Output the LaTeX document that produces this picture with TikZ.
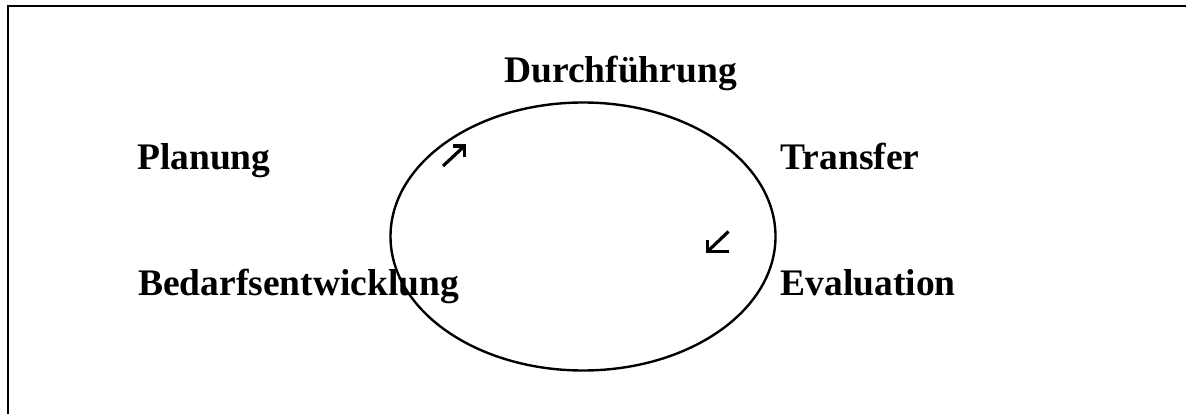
\documentclass[tikz,border=0pt]{standalone}
\usepackage{fontspec}
\setmainfont{Liberation Serif}
\usetikzlibrary{shapes.geometric}
\begin{document}
\begin{tikzpicture}[x=1pt,y=-1pt,
  lbl/.style={anchor=base west,inner sep=0pt,font=\fontsize{37.5}{40}\selectfont\bfseries},
  cyc/.style={line width=2.4pt},
  arr/.style={line width=3.2pt,line cap=butt}]
\useasboundingbox (0,0) rectangle (1186,414);
% frame (top and left edges)
\draw[line width=2.6pt] (8,414) -- (8,6) -- (1186,6);
% cycle ellipse
\node[draw,cyc,ellipse,minimum width=385pt,minimum height=268pt,inner sep=0pt] (cyc) at (583,236.5) {};
% labels
\node[lbl] (dur) at (504,83) {Durchführung};
\node[lbl] (plan) at (137,169.5) {Planung};
\node[lbl] (trans) at (780.5,169.5) {Transfer};
\node[lbl] (bed) at (138,295) {Bedarfsentwicklung};
\node[lbl] (eval) at (780.5,295) {Evaluation};
% arrows
\coordinate (a1t) at (443,166);
\coordinate (a1h) at (464.5,146);
\draw[arr] (a1t) -- (a1h);
\draw[arr] (453,146) -- (a1h) -- (464.5,157.5);
\coordinate (a2t) at (728.5,231.5);
\coordinate (a2h) at (707.5,251.5);
\draw[arr] (a2t) -- (a2h);
\draw[arr] (707.5,240) -- (a2h) -- (729,251.5);
\end{tikzpicture}
\end{document}
